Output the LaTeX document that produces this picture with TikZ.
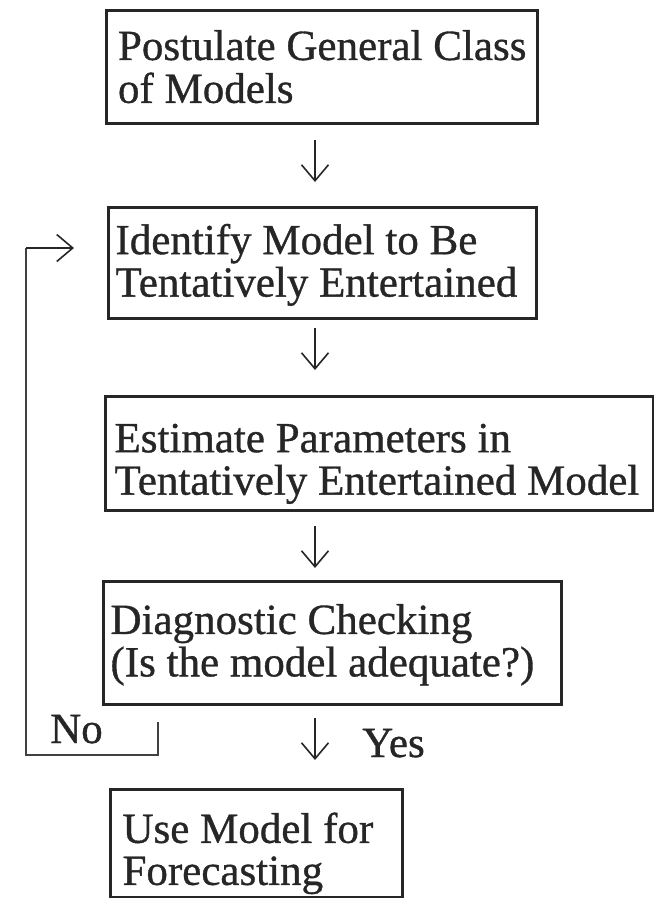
\documentclass[tikz,border=0pt]{standalone}
\usepackage{fontspec}
\setmainfont[FakeBold=0.8]{Liberation Serif}
\usetikzlibrary{arrows.meta}
\newcommand\bxt[3][-10.75pt]{\raisebox{#1}[0pt][0pt]{\makebox[#2][l]{\begin{tabular}{@{}l@{}}#3\end{tabular}}}}
\begin{document}
\begin{tikzpicture}[x=1pt,y=-1pt,
  box/.style={draw=black!85,line width=3pt,anchor=north west,
    inner xsep=0pt,inner ysep=0pt,font=\fontsize{43}{42}\selectfont,text=black!85},
  arr/.style={line width=1.6pt,draw=black!85,-{Straight Barb[length=16pt,width=27pt,line width=1.6pt]}},
  fb/.style={line width=2.4pt,draw=black!75},
  lbl/.style={font=\fontsize{43}{42}\selectfont,text=black!85,inner sep=0pt}]
\useasboundingbox (0,0) rectangle (654,898);
\node[box,minimum width=431pt,minimum height=113pt] (b1) at (105,9) {\bxt[-12pt]{408pt}{Postulate General Class\\of Models}};
\node[box,minimum width=428pt,minimum height=111pt] (b2) at (107,206) {\bxt[-9.75pt]{414pt}{Identify Model to Be\\Tentatively Entertained}};
\node[box,minimum width=548pt,minimum height=114pt] (b3) at (104,395) {\bxt[-17.75pt]{530pt}{Estimate Parameters in\\Tentatively Entertained Model}};
\node[box,minimum width=458pt,minimum height=123pt] (b4) at (102,580) {\bxt[-9.75pt]{444pt}{Diagnostic Checking\\(Is the model adequate?)}};
\node[box,minimum width=292pt,minimum height=108pt] (b5) at (109,788) {\bxt[-17.75pt]{268pt}{Use Model for\\Forecasting}};
\coordinate (ax) at (315,0);
\draw[arr,shorten <=15pt,shorten >=24pt] (b1.south -| ax) -- (b2.north -| ax);
\draw[arr,shorten <=8pt,shorten >=25pt] (b2.south -| ax) -- (b3.north -| ax);
\draw[arr,shorten <=14pt,shorten >=12pt] (b3.south -| ax) -- (b4.north -| ax);
\draw[arr,shorten <=12pt,shorten >=28pt] (b4.south -| ax) -- (b5.north -| ax);
\node[lbl,anchor=base west] (yes) at (362,757) {Yes};
\node[lbl,anchor=base west] (no) at (50,743) {No};
\coordinate (t1) at (158,722);
\coordinate (t2) at (158,755);
\coordinate (t3) at (26,755);
\coordinate (t4) at (26,248);
\coordinate (t5) at (107,248);
\draw[fb] (t1) -- (t2) -- (t3) -- (t4);
\draw[arr,line width=2.2pt,shorten >=33pt] (t4) -- (t5);
\end{tikzpicture}
\end{document}
